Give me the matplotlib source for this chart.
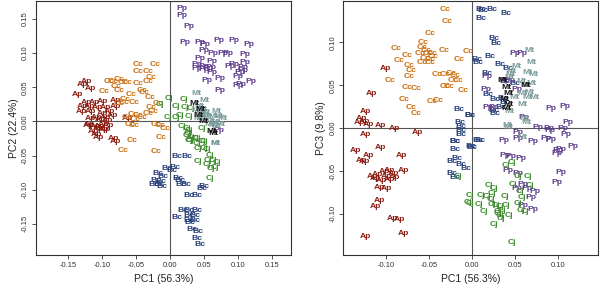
import matplotlib
matplotlib.use("Agg")
import matplotlib.pyplot as plt

plt.rcParams["font.family"] = ["Liberation Sans", "DejaVu Sans"]

# ---- left panel: PC1 vs PC2 ----
l_ap_x = [-0.124, -0.129, -0.118, -0.136, -0.124, -0.112, -0.100, -0.129, -0.119, -0.107,
          -0.130, -0.117, -0.095, -0.081, -0.080, -0.090, -0.100, -0.109, -0.095, -0.085,
          -0.102, -0.092, -0.117, -0.119, -0.110, -0.104, -0.099, -0.091, -0.063, -0.121,
          -0.106, -0.099, -0.113, -0.108, -0.106, -0.084, -0.081, -0.096]
l_ap_y = [0.058, 0.054, 0.048, 0.039, 0.028, 0.027, 0.029, 0.022, 0.022, 0.020,
          0.015, 0.015, 0.020, 0.031, 0.022, 0.014, 0.011, 0.006, 0.006, 0.009,
          0.003, 0.002, 0.004, -0.004, -0.007, -0.008, -0.004, -0.006, 0.004, -0.006,
          -0.010, -0.012, -0.015, -0.019, -0.023, -0.025, -0.030, -0.012]
l_cc_x = [-0.047, -0.022, -0.048, -0.033, -0.029, -0.032, -0.047, -0.090, -0.084, -0.076,
          -0.069, -0.063, -0.080, -0.076, -0.097, -0.058, -0.042, -0.039, -0.066, -0.068,
          -0.054, -0.030, -0.076, -0.028, -0.032, -0.025, -0.055, -0.048, -0.042, -0.052,
          -0.059, -0.053, -0.021, -0.015, -0.008, -0.013, -0.018, -0.064, -0.056, -0.069,
          -0.021]
l_cc_y = [0.083, 0.084, 0.073, 0.073, 0.064, 0.059, 0.056, 0.059, 0.059, 0.061,
          0.057, 0.057, 0.051, 0.045, 0.044, 0.039, 0.046, 0.042, 0.032, 0.028,
          0.027, 0.035, 0.026, 0.020, 0.012, 0.015, 0.010, 0.009, 0.005, 0.003,
          -0.004, -0.006, -0.004, -0.006, -0.011, -0.024, 0.026, 0.006, -0.028, -0.042,
          -0.044]
l_pp_x = [0.017, 0.017, 0.028, 0.021, 0.044, 0.051, 0.050, 0.062, 0.072, 0.094,
          0.115, 0.077, 0.085, 0.110, 0.044, 0.061, 0.109, 0.039, 0.050, 0.060,
          0.039, 0.049, 0.055, 0.061, 0.088, 0.093, 0.107, 0.103, 0.107, 0.099,
          0.054, 0.073, 0.099, 0.104, 0.118, 0.073, 0.071]
l_pp_y = [0.166, 0.155, 0.139, 0.115, 0.116, 0.112, 0.104, 0.100, 0.118, 0.118,
          0.112, 0.100, 0.099, 0.098, 0.092, 0.088, 0.087, 0.084, 0.081, 0.079,
          0.077, 0.076, 0.077, 0.072, 0.081, 0.084, 0.079, 0.072, 0.075, 0.066,
          0.060, 0.063, 0.053, 0.054, 0.059, 0.045, -0.013]
l_cj_x = [-0.002, -0.015, 0.008, 0.020, 0.022, 0.031, 0.028, 0.014, 0.009, -0.004,
          0.017, 0.024, 0.046, 0.026, 0.031, 0.039, 0.049, 0.027, 0.027, 0.024,
          0.036, 0.029, 0.039, 0.046, 0.049, 0.041, 0.054, 0.058, 0.056, 0.063,
          0.068, 0.054, 0.066, 0.060, 0.040, 0.058]
l_cj_y = [0.033, 0.025, 0.022, 0.032, 0.021, 0.019, 0.007, 0.009, 0.005, 0.005,
          -0.008, -0.011, -0.010, -0.018, -0.023, -0.025, -0.030, -0.028, -0.013, -0.020,
          -0.025, -0.028, -0.033, -0.030, -0.039, -0.040, -0.041, -0.050, -0.057, -0.058,
          -0.060, -0.063, -0.067, -0.069, -0.059, -0.084]
l_mt_x = [0.039, 0.050, 0.043, 0.039, 0.044, 0.050, 0.041, 0.046, 0.054, 0.068,
          0.063, 0.071, 0.059, 0.067, 0.073, 0.063, 0.057, 0.068, 0.066, 0.076,
          0.066, 0.047, 0.052]
l_mt_y = [0.041, 0.031, 0.022, 0.016, 0.011, 0.009, 0.004, 0.004, 0.006, 0.014,
          0.007, 0.007, 0.000, -0.001, -0.004, -0.006, -0.004, -0.007, -0.032, 0.004,
          -0.033, 0.018, 0.013]
l_mtk_x = [0.036, 0.044, 0.042, 0.063, 0.061, 0.048]
l_mtk_y = [0.026, 0.018, 0.008, -0.018, -0.015, 0.000]
l_bc_x = [0.009, 0.024, -0.005, 0.002, 0.007, 0.011, 0.014, 0.016, 0.023, 0.049,
          0.046, 0.027, 0.039, 0.019, 0.027, 0.039, 0.009, 0.027, 0.036, 0.027,
          0.036, 0.029, 0.032, 0.041, 0.039, 0.043, -0.019, -0.011, -0.021, -0.014,
          -0.024, -0.017, -0.012]
l_bc_y = [-0.051, -0.051, -0.069, -0.072, -0.068, -0.083, -0.086, -0.093, -0.092, -0.095,
          -0.099, -0.109, -0.109, -0.130, -0.131, -0.131, -0.141, -0.138, -0.138, -0.145,
          -0.145, -0.148, -0.158, -0.161, -0.172, -0.181, -0.076, -0.081, -0.086, -0.088,
          -0.092, -0.093, -0.096]

# ---- right panel: PC1 vs PC3 ----
r_ap_x = [-0.101, -0.117, -0.124, -0.129, -0.125, -0.131, -0.121, -0.107, -0.090, -0.124,
          -0.063, -0.136, -0.121, -0.129, -0.125, -0.107, -0.082, -0.080, -0.116, -0.110,
          -0.102, -0.096, -0.092, -0.100, -0.106, -0.096, -0.108, -0.100, -0.090, -0.108,
          -0.112, -0.093, -0.084, -0.080, -0.124, -0.112]
r_ap_y = [0.070, 0.040, 0.019, 0.011, 0.008, 0.006, 0.004, 0.003, -0.001, -0.008,
          -0.005, -0.026, -0.032, -0.038, -0.039, -0.023, -0.032, -0.050, -0.056, -0.054,
          -0.051, -0.049, -0.053, -0.057, -0.061, -0.060, -0.069, -0.071, -0.058, -0.084,
          -0.092, -0.105, -0.107, -0.123, -0.127, -0.059]
r_cc_x = [-0.031, -0.029, -0.049, -0.057, -0.088, -0.076, -0.058, -0.053, -0.061, -0.051,
          -0.046, -0.045, -0.049, -0.055, -0.058, -0.049, -0.033, -0.005, -0.015, -0.085,
          -0.073, -0.071, -0.073, -0.096, -0.041, -0.031, -0.024, -0.020, -0.016, -0.022,
          -0.076, -0.065, -0.031, -0.027, -0.010, -0.079, -0.047, -0.040, -0.071, -0.065]
r_cc_y = [0.138, 0.125, 0.110, 0.100, 0.093, 0.085, 0.094, 0.091, 0.087, 0.087,
          0.087, 0.083, 0.080, 0.081, 0.076, 0.076, 0.090, 0.089, 0.080, 0.079,
          0.073, 0.067, 0.060, 0.055, 0.062, 0.063, 0.064, 0.061, 0.056, 0.055,
          0.047, 0.046, 0.049, 0.048, 0.044, 0.033, 0.031, 0.032, 0.024, 0.017]
r_bc_x = [0.010, 0.013, 0.023, 0.040, 0.010, 0.026, 0.028, 0.021, 0.006, 0.007,
          0.032, 0.042, 0.017, 0.019, 0.027, 0.036, 0.038, 0.025, 0.027, 0.034,
          -0.003, 0.038, 0.050, -0.015, -0.003, -0.014, -0.013, -0.013, -0.013, -0.020,
          0.007, -0.020, -0.020, -0.001, -0.024, -0.018, -0.013, -0.007, -0.024, -0.020,
          0.009, 0.000]
r_bc_y = [0.139, 0.137, 0.139, 0.134, 0.128, 0.105, 0.099, 0.083, 0.080, 0.077,
          0.074, 0.069, 0.064, 0.039, 0.033, 0.035, 0.030, 0.021, 0.017, 0.024,
          0.015, 0.054, 0.052, 0.022, 0.015, 0.006, 0.002, -0.003, -0.007, -0.016,
          -0.014, -0.016, -0.025, -0.022, -0.039, -0.036, -0.043, -0.047, -0.053, -0.058,
          -0.014, -0.023]
r_mt_x = [0.067, 0.069, 0.065, 0.071, 0.052, 0.045, 0.058, 0.063, 0.069, 0.067,
          0.073, 0.065, 0.059, 0.050, 0.059, 0.044, 0.041, 0.061, 0.063, 0.044,
          0.046, 0.042, 0.059]
r_mt_y = [0.090, 0.077, 0.065, 0.062, 0.072, 0.062, 0.054, 0.050, 0.052, 0.042,
          0.036, 0.036, 0.040, 0.036, 0.028, 0.019, 0.003, 0.011, 0.006, 0.059,
          0.066, 0.001, -0.011]
r_mtk_x = [0.040, 0.043, 0.038, 0.042, 0.040, 0.036, 0.062]
r_mtk_y = [0.047, 0.040, 0.033, 0.028, 0.023, 0.055, 0.050]
r_pp_x = [0.050, 0.058, 0.017, 0.038, 0.044, 0.052, 0.016, 0.019, 0.025, 0.092,
          0.108, 0.061, 0.112, 0.077, 0.089, 0.106, 0.053, 0.053, 0.091, 0.109,
          0.037, 0.071, 0.086, 0.092, 0.100, 0.104, 0.099, 0.117, 0.038, 0.045,
          0.057, 0.042, 0.053, 0.104, 0.099, 0.059, 0.052, 0.073, 0.069, 0.059,
          0.071, 0.064]
r_pp_y = [0.087, 0.087, 0.060, 0.056, 0.056, 0.045, 0.045, 0.024, 0.024, 0.023,
          0.025, 0.012, 0.007, 0.001, -0.001, -0.001, -0.005, -0.012, -0.003, -0.008,
          -0.014, -0.016, -0.012, -0.013, -0.026, -0.025, -0.030, -0.022, -0.032, -0.033,
          -0.036, -0.049, -0.053, -0.052, -0.064, -0.066, -0.071, -0.074, -0.081, -0.090,
          -0.095, -0.071]
r_cj_x = [0.039, 0.047, 0.053, 0.065, 0.068, 0.048, 0.056, 0.058, 0.054, 0.057,
          0.062, 0.020, 0.026, 0.023, -0.002, -0.002, 0.010, 0.017, 0.022, 0.008,
          0.023, 0.028, 0.032, 0.038, 0.039, 0.035, 0.032, 0.034, 0.014, 0.043,
          0.026, 0.047, 0.030, -0.016, -0.005, 0.030]
r_cj_y = [-0.044, -0.040, -0.057, -0.056, -0.067, -0.066, -0.074, -0.081, -0.088, -0.096,
          -0.097, -0.067, -0.071, -0.076, -0.079, -0.088, -0.079, -0.080, -0.083, -0.089,
          -0.089, -0.090, -0.092, -0.080, -0.090, -0.096, -0.102, -0.105, -0.097, -0.102,
          -0.112, -0.134, -0.097, -0.057, -0.087, -0.100]

colors = {"Ap": "#8c1c12", "Cc": "#c96a08", "Pp": "#5b3a8c", "Cj": "#3b8a2b",
          "Bc": "#263f78", "Mt": "#7a9a9a", "Mtk": "#111111"}


def draw(ax, groups, xlim, ylim, xticks, yticks, xlabel, ylabel):
    for name, xs, ys in groups:
        label = "Mt" if name == "Mtk" else name
        for x, y in zip(xs, ys):
            ax.text(x, y, label, color=colors[name], fontsize=6.1, fontweight="bold",
                    ha="center", va="center")
    ax.axhline(0, color="#555555", lw=0.8)
    ax.axvline(0, color="#555555", lw=0.8)
    ax.set_xlim(xlim)
    ax.set_ylim(ylim)
    ax.set_xticks(xticks)
    ax.set_yticks(yticks)
    ax.set_xticklabels(["%.2f" % t for t in xticks])
    ax.set_yticklabels(["%.2f" % t for t in yticks], rotation=90, va="center")
    ax.tick_params(labelsize=5.5, length=3, width=0.6, colors="#333333", pad=2)
    ax.set_xlabel(xlabel, fontsize=7.5, color="#222222", labelpad=4)
    ax.set_ylabel(ylabel, fontsize=7.5, color="#222222", labelpad=2)
    for s in ax.spines.values():
        s.set_linewidth(0.8)
        s.set_color("#333333")


fig = plt.figure(figsize=(6, 2.91), dpi=100)
ax1 = fig.add_axes([0.06, 0.124, 0.425, 0.873])
ax2 = fig.add_axes([0.572, 0.124, 0.425, 0.873])

draw(ax1,
     [("Ap", l_ap_x, l_ap_y), ("Cc", l_cc_x, l_cc_y), ("Pp", l_pp_x, l_pp_y),
      ("Cj", l_cj_x, l_cj_y), ("Mt", l_mt_x, l_mt_y), ("Mtk", l_mtk_x, l_mtk_y),
      ("Bc", l_bc_x, l_bc_y)],
     (-0.1975, 0.1775), (-0.1956, 0.1766),
     [-0.15, -0.10, -0.05, 0.00, 0.05, 0.10, 0.15],
     [-0.15, -0.10, -0.05, 0.00, 0.05, 0.10, 0.15],
     "PC1 (56.3%)", "PC2 (22.4%)")

draw(ax2,
     [("Ap", r_ap_x, r_ap_y), ("Cc", r_cc_x, r_cc_y), ("Bc", r_bc_x, r_bc_y),
      ("Pp", r_pp_x, r_pp_y), ("Cj", r_cj_x, r_cj_y), ("Mt", r_mt_x, r_mt_y),
      ("Mtk", r_mtk_x, r_mtk_y)],
     (-0.150, 0.147), (-0.148, 0.1485),
     [-0.10, -0.05, 0.00, 0.05, 0.10],
     [-0.10, -0.05, 0.00, 0.05, 0.10],
     "PC1 (56.3%)", "PC3 (9.8%)")

fig.savefig("out.png", dpi=100)
